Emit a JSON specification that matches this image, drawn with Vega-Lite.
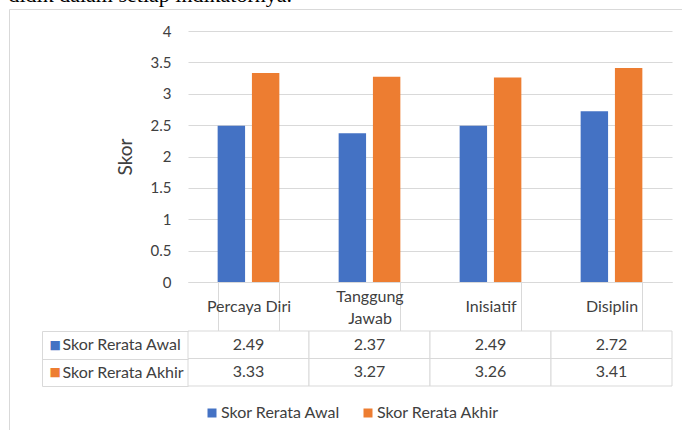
{
  "$schema": "https://vega.github.io/schema/vega-lite/v6.json",
  "background": "white",
  "padding": {"left": 8, "top": -17, "right": 0, "bottom": 0},
  "title": {"text": "didik dalam setiap indikatornya.", "anchor": "start", "font": "Liberation Serif", "fontSize": 22, "fontWeight": "normal", "color": "#000000", "offset": 2},
  "data": {"values": [
    {"indikator": "Percaya Diri", "seri": "Skor Rerata Awal", "skor": 2.49},
    {"indikator": "Percaya Diri", "seri": "Skor Rerata Akhir", "skor": 3.33},
    {"indikator": "Tanggung Jawab", "seri": "Skor Rerata Awal", "skor": 2.37},
    {"indikator": "Tanggung Jawab", "seri": "Skor Rerata Akhir", "skor": 3.27},
    {"indikator": "Inisiatif", "seri": "Skor Rerata Awal", "skor": 2.49},
    {"indikator": "Inisiatif", "seri": "Skor Rerata Akhir", "skor": 3.26},
    {"indikator": "Disiplin", "seri": "Skor Rerata Awal", "skor": 2.72},
    {"indikator": "Disiplin", "seri": "Skor Rerata Akhir", "skor": 3.41}
  ]},
  "bounds": "flush",
  "spacing": 49,
  "vconcat": [
    {
      "width": 484,
      "height": 251,
      "mark": {"type": "bar"},
      "encoding": {
        "x": {"field": "indikator", "type": "nominal", "sort": null,
          "scale": {"paddingInner": 0.49, "paddingOuter": 0.245},
          "axis": {"title": null, "domainColor": "#d9d9d9", "domainWidth": 1, "tickBand": "extent", "tickSize": 49, "tickColor": "#d9d9d9", "tickWidth": 1,
            "labelAngle": 0, "labelFont": "Lato", "labelFontSize": 16, "labelColor": "#404040", "labelBaseline": "middle",
            "labelPadding": {"condition": {"test": "datum.label == 'Tanggung Jawab'", "value": -35}, "value": -25},
            "labelLineHeight": 22,
            "labelExpr": "datum.label == 'Tanggung Jawab' ? ['Tanggung', 'Jawab'] : datum.label"}},
        "xOffset": {"field": "seri", "type": "nominal", "sort": null, "scale": {"paddingInner": 0.2}},
        "y": {"field": "skor", "type": "quantitative", "scale": {"domain": [0, 4]},
          "axis": {"title": "Skor", "values": [0, 0.5, 1, 1.5, 2, 2.5, 3, 3.5, 4], "format": "~g", "grid": true, "gridColor": "#d9d9d9", "gridWidth": 1, "domain": false, "ticks": false,
            "labelPadding": 17, "labelFont": "Lato", "labelFontSize": 15, "labelColor": "#404040",
            "titleFont": "Lato", "titleFontSize": 19, "titleFontWeight": "normal", "titleColor": "#404040", "titlePadding": 15}},
        "color": {"field": "seri", "type": "nominal", "sort": null,
          "scale": {"range": ["#4472C4", "#ED7D31"]},
          "legend": {"orient": "none", "legendX": -179, "legendY": -22, "direction": "horizontal",
            "title": " ", "titleFontSize": 1, "titlePadding": 196, "padding": 199,
            "strokeColor": "#d9d9d9",
            "symbolType": "square", "symbolSize": 81, "symbolStrokeWidth": 0, "symbolOffset": -4,
            "labelFont": "Lato", "labelFontSize": 16, "labelColor": "#404040", "labelOffset": 1, "columnPadding": 22}}
      }
    },
    {
      "width": 484,
      "height": 55,
      "layer": [
        {
          "mark": {"type": "rect", "fill": "white", "stroke": "#d9d9d9", "strokeWidth": 1},
          "encoding": {
            "x": {"field": "indikator", "type": "nominal", "sort": null, "axis": null, "scale": {"paddingInner": 0, "paddingOuter": 0}},
            "y": {"field": "seri", "type": "nominal", "sort": null,
              "axis": {"orient": "left", "title": null, "offset": 146, "domain": true, "domainColor": "#d9d9d9", "domainWidth": 1,
                "ticks": true, "tickBand": "extent", "tickSize": -146, "tickColor": "#d9d9d9", "tickWidth": 1,
                "labelAlign": "left", "labelBaseline": "middle", "labelPadding": 126, "labelFont": "Lato", "labelFontSize": 16, "labelColor": "#404040", "labelLimit": 0}}
          }
        },
        {
          "mark": {"type": "text", "font": "Lato", "fontSize": 16, "color": "#404040"},
          "encoding": {
            "x": {"field": "indikator", "type": "nominal", "sort": null, "axis": null},
            "y": {"field": "seri", "type": "nominal", "sort": null,
              "axis": {"orient": "left", "title": null, "offset": 146, "domain": false, "ticks": false,
                "labelExpr": "'■'", "labelAlign": "left", "labelBaseline": "middle", "labelPadding": -7, "labelFont": "DejaVu Sans", "labelFontSize": 12,
                "labelColor": {"condition": {"test": "datum.value == 'Skor Rerata Awal'", "value": "#4472C4"}, "value": "#ED7D31"}}},
            "text": {"field": "skor", "type": "quantitative", "format": ".2f"}
          }
        }
      ],
      "resolve": {"axis": {"y": "independent"}}
    }
  ],
  "config": {"view": {"stroke": null}}
}
